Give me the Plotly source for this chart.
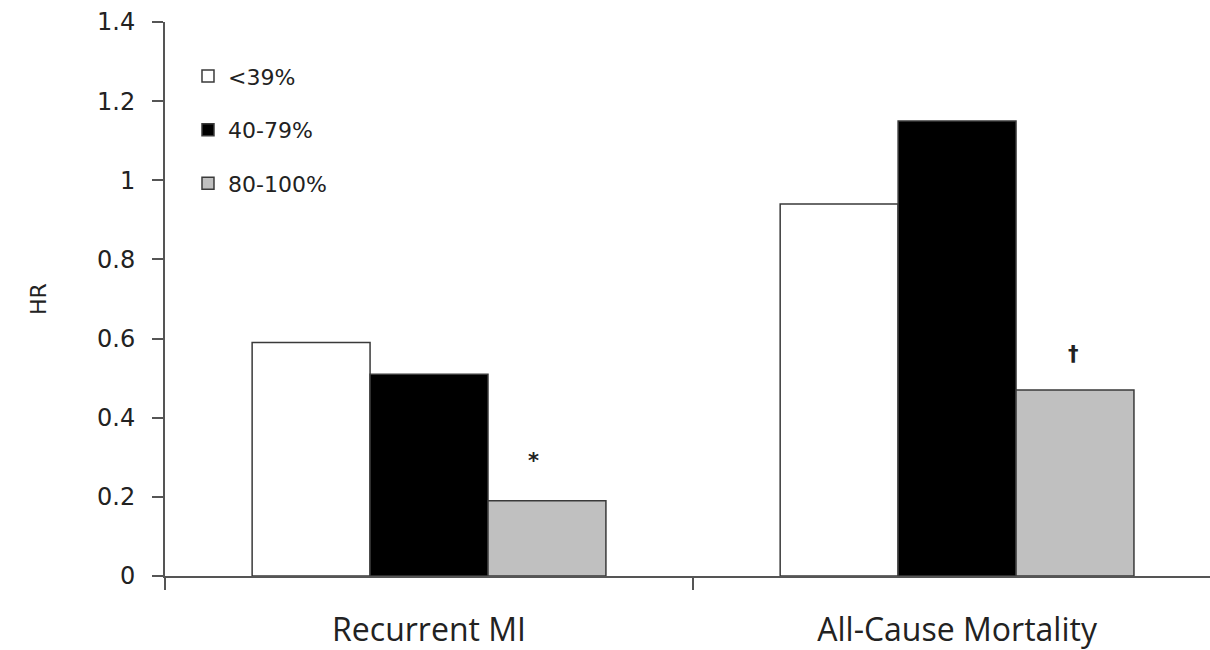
import plotly.graph_objects as go

categories = ["Recurrent MI", "All-Cause Mortality"]
series_names = ["<39%", "40-79%", "80-100%"]
values_low = [0.59, 0.94]
values_mid = [0.51, 1.15]
values_high = [0.19, 0.47]
y_ticks = [0, 0.2, 0.4, 0.6, 0.8, 1.0, 1.2, 1.4]
y_ticktext = ["0", "0.2", "0.4", "0.6", "0.8", "1", "1.2", "1.4"]
markers = ["<b>*</b>", "<b>†</b>"]
marker_pos = [(0.197, 0.29), (1.22, 0.56)]

fills = ["#ffffff", "#000000", "#c0c0c0"]
series_vals = [values_low, values_mid, values_high]

fig = go.Figure()
for i, (name, vals) in enumerate(zip(series_names, series_vals)):
    fig.add_trace(go.Bar(
        x=categories, y=vals, name=name, legendgroup=f"g{i}",
        marker=dict(color=fills[i], line=dict(color="#3a3a3a", width=1.5)),
    ))

for sym, (xx, yy) in zip(markers, marker_pos):
    fig.add_annotation(x=xx, y=yy, xref="x", yref="y", text=sym, showarrow=False,
                       font=dict(family="DejaVu Sans", size=21, color="#222"))

fig.update_layout(
    width=1210, height=650,
    margin=dict(l=165, r=0, t=22, b=74),
    paper_bgcolor="white", plot_bgcolor="white",
    barmode="group", bargap=0.33, bargroupgap=0,
    font=dict(family="DejaVu Sans", size=20, color="#222"),
    legend=dict(x=0.022, y=0.94, xanchor="left", yanchor="top",
                traceorder="grouped", tracegroupgap=22,
                font=dict(family="DejaVu Sans", size=22, color="#222"),
                bgcolor="rgba(0,0,0,0)", itemwidth=30),
    xaxis=dict(range=[-0.5, 1.479], showline=True, linecolor="#555", linewidth=2,
               ticks="outside", tickson="boundaries", ticklen=12, tickwidth=2, tickcolor="#555",
               ticklabelstandoff=25,
               tickfont=dict(family="Open Sans", size=32, color="#222"),
               showgrid=False, zeroline=False),
    yaxis=dict(range=[0, 1.4], tickvals=y_ticks, ticktext=y_ticktext,
               showline=True, linecolor="#555", linewidth=2,
               ticks="outside", ticklen=11, tickwidth=2, tickcolor="#555",
               ticklabelstandoff=12,
               tickfont=dict(family="DejaVu Sans", size=24, color="#222"),
               showgrid=False, zeroline=False,
               title=dict(text="HR", standoff=44,
                          font=dict(family="DejaVu Sans", size=22, color="#222"))),
)

fig.write_html("out.html")
